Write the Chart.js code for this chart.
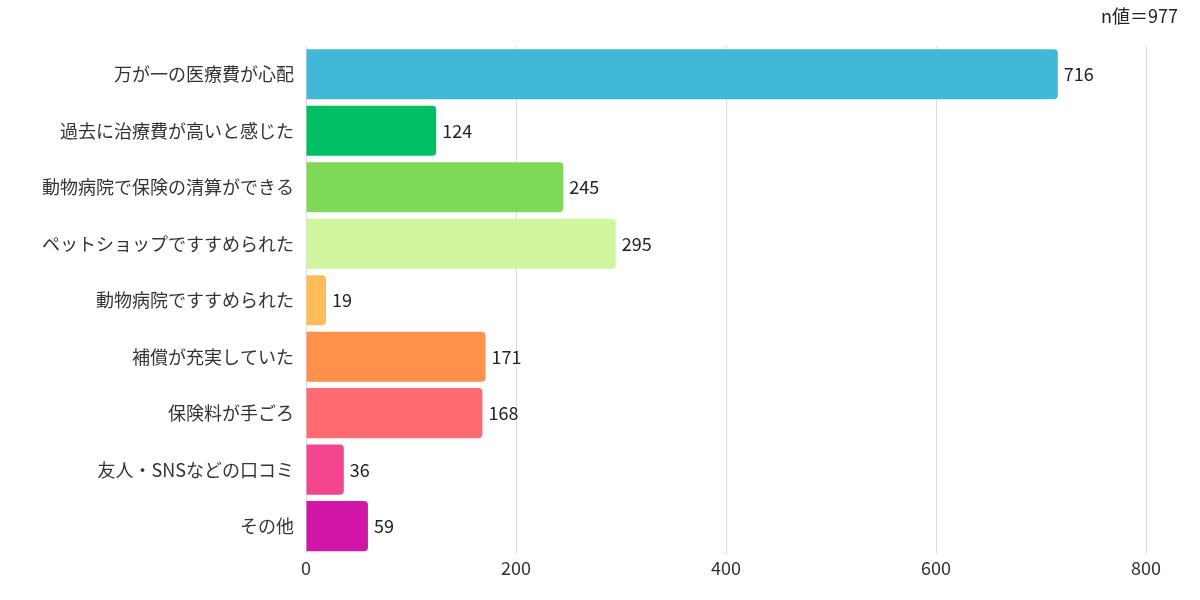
<!DOCTYPE html>
<html>
<head>
<meta charset="utf-8">
<script src="https://cdn.jsdelivr.net/npm/chart.js@4/dist/chart.umd.min.js"></script>
<style>
  html, body { margin: 0; padding: 0; background: #fff; }
  #wrap { width: 1200px; height: 600px; }
</style>
</head>
<body>
<div id="wrap"><canvas id="reasonChart"></canvas></div>
<script>
// chart data
const categories = [
  "万が一の医療費が心配",
  "過去に治療費が高いと感じた",
  "動物病院で保険の清算ができる",
  "ペットショップですすめられた",
  "動物病院ですすめられた",
  "補償が充実していた",
  "保険料が手ごろ",
  "友人・SNSなどの口コミ",
  "その他"
];
const counts = [716, 124, 245, 295, 19, 171, 168, 36, 59];
const barColors = [
  "#42b8d8", "#00bf63", "#7ed957", "#cff59d", "#ffbd59",
  "#ff914d", "#ff6b70", "#f4468f", "#d116a8"
];
const xTicks = [0, 200, 400, 600, 800];
const sampleNote = "n値＝977";

const fontFamily = "'Noto Sans CJK JP', 'Noto Sans', sans-serif";

// value labels at the end of each bar
const valueLabels = {
  id: "valueLabels",
  afterDatasetsDraw(chart) {
    const ctx = chart.ctx;
    const meta = chart.getDatasetMeta(0);
    ctx.save();
    ctx.font = "18px " + fontFamily;
    ctx.fillStyle = "#222";
    ctx.textAlign = "left";
    ctx.textBaseline = "middle";
    meta.data.forEach((bar, i) => {
      ctx.fillText(String(counts[i]), bar.x + 6, bar.y);
    });
    ctx.restore();
  }
};

// sample size note, top right
const noteText = {
  id: "noteText",
  afterDraw(chart) {
    const ctx = chart.ctx;
    ctx.save();
    ctx.font = "18px " + fontFamily;
    ctx.fillStyle = "#222";
    ctx.textAlign = "right";
    ctx.textBaseline = "middle";
    ctx.fillText(sampleNote, chart.width - 22, 16);
    ctx.restore();
  }
};

new Chart(document.getElementById("reasonChart"), {
  type: "bar",
  data: {
    labels: categories,
    datasets: [{
      data: counts,
      backgroundColor: barColors,
      borderRadius: 4,
      borderSkipped: "start",
      barPercentage: 0.887,
      categoryPercentage: 1.0
    }]
  },
  options: {
    indexAxis: "y",
    responsive: true,
    maintainAspectRatio: false,
    animation: false,
    layout: { padding: { top: 46, right: 54, bottom: 18, left: 0 } },
    plugins: {
      legend: { display: false },
      tooltip: { enabled: false }
    },
    scales: {
      x: {
        min: 0,
        max: 800,
        afterBuildTicks(scale) {
          scale.ticks = xTicks.map(v => ({ value: v }));
        },
        grid: { color: "#dcdcdc", drawTicks: false },
        border: { display: false },
        ticks: {
          padding: 3,
          color: "#333",
          font: { family: fontFamily, size: 18 }
        }
      },
      y: {
        grid: { display: false, drawTicks: false },
        border: { display: false },
        afterFit(scale) { scale.width = 306; },
        ticks: {
          padding: 12,
          color: "#333",
          font: { family: fontFamily, size: 18 }
        }
      }
    }
  },
  plugins: [valueLabels, noteText]
});
</script>
</body>
</html>
